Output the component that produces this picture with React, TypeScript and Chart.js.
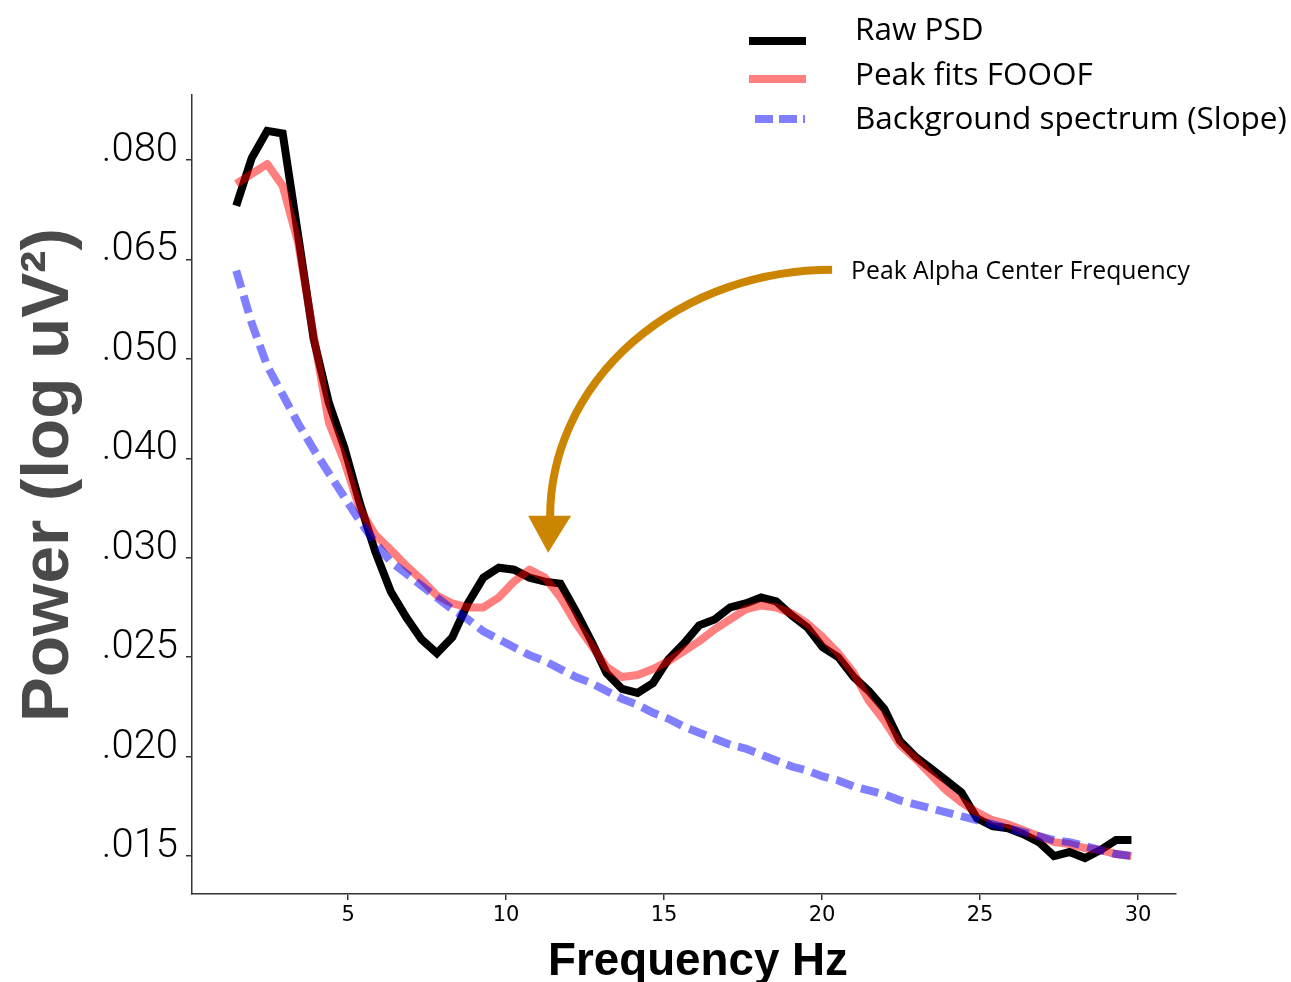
import React, { useEffect, useRef } from "react";
import { Chart, registerables } from "chart.js";

Chart.register(...registerables);

// Frequency bins (Hz)
const freqs = [
  1.46, 1.95, 2.44, 2.93, 3.42, 3.91, 4.39, 4.88, 5.37, 5.86,
  6.35, 6.84, 7.32, 7.81, 8.3, 8.79, 9.28, 9.77, 10.25, 10.74,
  11.23, 11.72, 12.21, 12.7, 13.18, 13.67, 14.16, 14.65, 15.14, 15.63,
  16.11, 16.6, 17.09, 17.58, 18.07, 18.55, 19.04, 19.53, 20.02, 20.51,
  21.0, 21.48, 21.97, 22.46, 22.95, 23.44, 23.93, 24.41, 24.9, 25.39,
  25.88, 26.37, 26.86, 27.34, 27.83, 28.32, 28.81, 29.3, 29.79,
];

// Raw PSD
const rawPSD = [
  0.0731, 0.0803, 0.0844, 0.084, 0.0686, 0.053, 0.0456, 0.0411, 0.0355, 0.0306,
  0.0283, 0.027, 0.0259, 0.0252, 0.026, 0.0277, 0.029, 0.0295, 0.0294, 0.029,
  0.0288, 0.0287, 0.0273, 0.0258, 0.0242, 0.0234, 0.0232, 0.0237, 0.0249, 0.0257,
  0.0266, 0.0269, 0.0275, 0.0277, 0.028, 0.0278, 0.0271, 0.0265, 0.0255, 0.025,
  0.024, 0.0233, 0.0224, 0.0208, 0.02, 0.0194, 0.0188, 0.0182, 0.0169, 0.0165,
  0.0164, 0.0161, 0.0157, 0.015, 0.0152, 0.0149, 0.0153, 0.0158, 0.0158,
];

// Peak fits FOOOF
const fooofFit = [
  0.0764, 0.0779, 0.0794, 0.0761, 0.0675, 0.0535, 0.0436, 0.0397, 0.0349, 0.0323,
  0.0308, 0.0296, 0.0289, 0.0281, 0.0277, 0.0275, 0.0275, 0.028, 0.0288, 0.0294,
  0.029, 0.028, 0.0267, 0.0256, 0.0245, 0.024, 0.0241, 0.0244, 0.0248, 0.0253,
  0.0258, 0.0264, 0.0269, 0.0274, 0.0276, 0.0275, 0.0272, 0.0267, 0.026, 0.0252,
  0.0242, 0.0228, 0.0218, 0.0206, 0.0199, 0.0191, 0.0183, 0.0177, 0.0172, 0.0168,
  0.0166, 0.0163, 0.016, 0.0157, 0.0156, 0.0154, 0.0153, 0.0151, 0.015,
];

// Background spectrum (Slope)
const background = [
  0.0633, 0.0554, 0.0493, 0.0464, 0.0435, 0.0409, 0.0385, 0.0361, 0.0337, 0.0315,
  0.0298, 0.0292, 0.0286, 0.028, 0.0274, 0.0269, 0.0263, 0.0259, 0.0255, 0.0251,
  0.0248, 0.0244, 0.024, 0.0237, 0.0233, 0.0229, 0.0226, 0.0222, 0.0219, 0.0215,
  0.0212, 0.0209, 0.0206, 0.0204, 0.0201, 0.0198, 0.0195, 0.0193, 0.019, 0.0188,
  0.0185, 0.0183, 0.0181, 0.0178, 0.0176, 0.0174, 0.0172, 0.017, 0.0168, 0.0166,
  0.0164, 0.0162, 0.016, 0.0158, 0.0157, 0.0155, 0.0153, 0.0151, 0.015,
];

// Y axis: evenly spaced tick labels (as in the reference)
const yTickValues = [0.015, 0.02, 0.025, 0.03, 0.04, 0.05, 0.065, 0.08];
const yTickLabels = [".015", ".020", ".025", ".030", ".040", ".050", ".065", ".080"];
const xTicks = [5, 10, 15, 20, 25, 30];

const seriesLabels = ["Raw PSD", "Peak fits FOOOF", "Background spectrum (Slope)"];
const xTitle = "Frequency Hz";
const yTitle = "Power (log uV\u00B2)";
const annotationText = "Peak Alpha Center Frequency";
const annotationFreq = 11.33;
const annotationPower = 0.0305;

const BLACK = "#000000";
const RED = "rgba(255,0,0,0.5)";
const BLUE = "rgba(0,0,255,0.5)";
const ORANGE = "#CC8500";

// position on the evenly spaced tick axis (piecewise linear between labels)
function toPos(v: number): number {
  const t = yTickValues;
  const n = t.length;
  let i = 0;
  if (v <= t[0]) i = 0;
  else if (v >= t[n - 1]) i = n - 2;
  else {
    while (i < n - 2 && v > t[i + 1]) i++;
  }
  return i + (v - t[i]) / (t[i + 1] - t[i]);
}

function fitSize(ctx: CanvasRenderingContext2D, text: string, weight: string, family: string, target: number) {
  ctx.font = `${weight} 100px ${family}`;
  const w = ctx.measureText(text).width;
  return (100 * target) / w;
}

const overlayPlugin = {
  id: "overlay",
  afterDraw(chart: any) {
    const ctx: CanvasRenderingContext2D = chart.ctx;
    const xs = chart.scales.x;
    const ys = chart.scales.y;

    // Y title
    ctx.save();
    const yFam = '"Liberation Sans", Arial, sans-serif';
    const ySize = fitSize(ctx, yTitle, "bold", yFam, 494);
    ctx.font = `bold ${ySize}px ${yFam}`;
    ctx.fillStyle = "#4a4a4a";
    ctx.translate(68, 475);
    ctx.rotate(-Math.PI / 2);
    ctx.textAlign = "center";
    ctx.textBaseline = "alphabetic";
    ctx.fillText(yTitle, 0, 0);
    ctx.restore();

    // X title
    ctx.save();
    const xSize = fitSize(ctx, xTitle, "bold", yFam, 300);
    ctx.font = `bold ${xSize}px ${yFam}`;
    ctx.fillStyle = "#000";
    ctx.textAlign = "center";
    ctx.textBaseline = "alphabetic";
    ctx.fillText(xTitle, 698, 975);
    ctx.restore();

    // Legend
    ctx.save();
    const lFam = '"Open Sans", "Noto Sans", sans-serif';
    const lSize = fitSize(ctx, seriesLabels[2], "normal", lFam, 432);
    ctx.lineCap = "butt";
    ctx.lineWidth = 8;
    ctx.strokeStyle = BLACK;
    ctx.beginPath();
    ctx.moveTo(749, 41);
    ctx.lineTo(806, 41);
    ctx.stroke();
    ctx.strokeStyle = RED;
    ctx.beginPath();
    ctx.moveTo(749, 79);
    ctx.lineTo(806, 79);
    ctx.stroke();
    ctx.strokeStyle = BLUE;
    ctx.setLineDash([18, 6]);
    ctx.beginPath();
    ctx.moveTo(755, 119);
    ctx.lineTo(805, 119);
    ctx.stroke();
    ctx.setLineDash([]);
    ctx.font = `normal ${lSize}px ${lFam}`;
    ctx.fillStyle = "#000";
    ctx.textAlign = "left";
    ctx.textBaseline = "middle";
    ctx.fillText(seriesLabels[0], 855, 31);
    ctx.fillText(seriesLabels[1], 855, 76);
    ctx.fillText(seriesLabels[2], 855, 120);
    ctx.restore();

    // Annotation arrow
    const tipX = xs.getPixelForValue(annotationFreq);
    const tipY = ys.getPixelForValue(toPos(annotationPower));
    ctx.save();
    ctx.strokeStyle = ORANGE;
    ctx.fillStyle = ORANGE;
    ctx.lineWidth = 8;
    ctx.lineCap = "butt";
    const cx = tipX + 284;
    const cy = tipY - 36;
    ctx.beginPath();
    ctx.ellipse(cx, cy, 282, 247, 0, Math.PI, Math.PI * 1.5);
    ctx.stroke();
    ctx.beginPath();
    ctx.moveTo(tipX - 20, tipY - 37);
    ctx.lineTo(tipX + 23, tipY - 37);
    ctx.lineTo(tipX, tipY);
    ctx.closePath();
    ctx.fill();
    const aSize = fitSize(ctx, annotationText, "normal", lFam, 339);
    ctx.font = `normal ${aSize}px ${lFam}`;
    ctx.fillStyle = "#000";
    ctx.textAlign = "left";
    ctx.textBaseline = "middle";
    ctx.fillText(annotationText, cx + 19, cy - 247 + 2);
    ctx.restore();
  },
};

export default function App() {
  const canvasRef = useRef<HTMLCanvasElement | null>(null);

  useEffect(() => {
    if (!canvasRef.current) return;
    const mk = (vals: number[]) => vals.map((v, i) => ({ x: freqs[i], y: toPos(v) }));
    const chart = new Chart(canvasRef.current, {
      type: "line",
      data: {
        datasets: [
          {
            label: seriesLabels[2],
            data: mk(background),
            borderColor: BLUE,
            borderWidth: 8,
            borderDash: [18, 8],
            borderCapStyle: "butt",
            pointRadius: 0,
            tension: 0,
            order: 1,
          },
          {
            label: seriesLabels[1],
            data: mk(fooofFit),
            borderColor: RED,
            borderWidth: 8,
            borderJoinStyle: "round",
            pointRadius: 0,
            tension: 0,
            order: 2,
          },
          {
            label: seriesLabels[0],
            data: mk(rawPSD),
            borderColor: BLACK,
            borderWidth: 8,
            borderJoinStyle: "miter",
            borderCapStyle: "butt",
            pointRadius: 0,
            tension: 0,
            order: 3,
          },
        ],
      },
      options: {
        animation: false,
        responsive: false,
        maintainAspectRatio: false,
        layout: { padding: { top: 95, right: 115, left: 0, bottom: 0 } },
        plugins: { legend: { display: false }, tooltip: { enabled: false } },
        scales: {
          x: {
            type: "linear",
            min: 0.06,
            max: 31.2,
            afterBuildTicks: (s: any) => {
              s.ticks = xTicks.map((v) => ({ value: v }));
            },
            afterFit: (s: any) => {
              s.height = 88;
            },
            grid: { drawOnChartArea: false, drawTicks: true, tickLength: 6, color: "#333", lineWidth: 1.5 },
            border: { display: true, color: "#333", width: 1.5 },
            ticks: {
              font: { family: '"DejaVu Sans", sans-serif', size: 21 },
              color: "#000",
              padding: 3,
              maxRotation: 0,
              autoSkip: false,
              callback: (v: any) => String(v),
            },
          },
          y: {
            type: "linear",
            min: -0.382,
            max: 7.654,
            afterBuildTicks: (s: any) => {
              s.ticks = yTickValues.map((_, i) => ({ value: i }));
            },
            afterFit: (s: any) => {
              s.width = 192;
            },
            grid: { drawOnChartArea: false, drawTicks: true, tickLength: 6, color: "#333", lineWidth: 1.5 },
            border: { display: true, color: "#333", width: 1.5 },
            ticks: {
              font: { family: 'Roboto, "Liberation Sans", sans-serif', size: 40, weight: "300" as any },
              color: "#000",
              padding: 8,
              labelOffset: -9,
              autoSkip: false,
              callback: (_v: any, idx: number) => yTickLabels[idx],
            },
          },
        },
      },
      plugins: [overlayPlugin],
    } as any);
    return () => chart.destroy();
  }, []);

  return (
    <div style={{ position: "absolute", left: 0, top: 0, width: 1291, height: 982, background: "#fff" }}>
      <canvas ref={canvasRef} width={1291} height={982} style={{ display: "block" }} />
    </div>
  );
}
